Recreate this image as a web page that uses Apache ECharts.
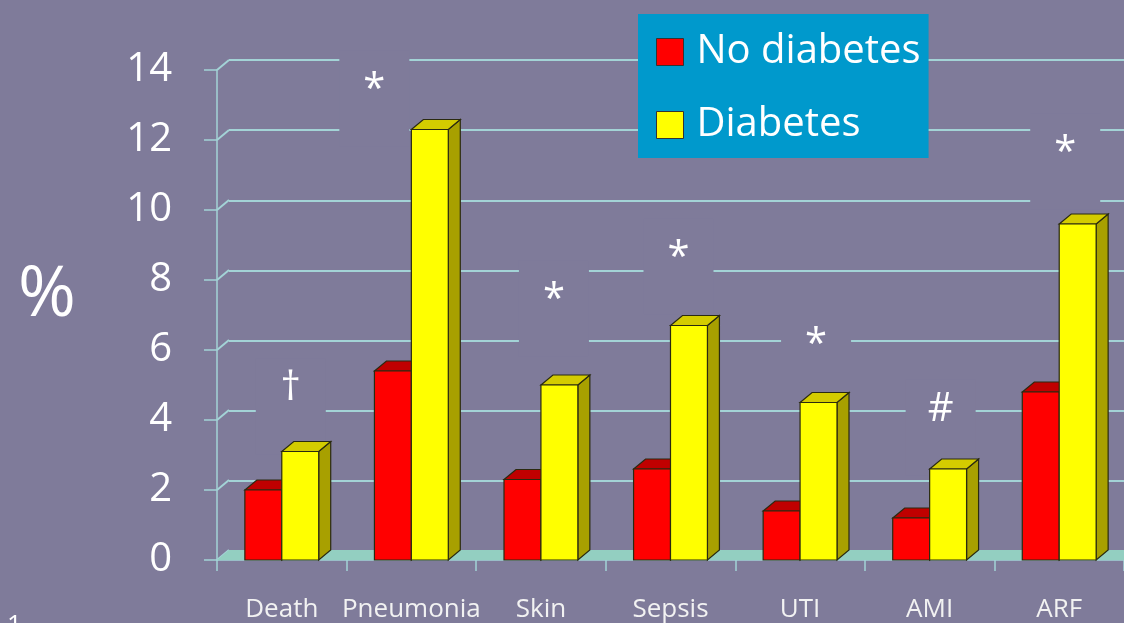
<!DOCTYPE html>
<html>
<head>
<meta charset="utf-8">
<script src="https://cdn.jsdelivr.net/npm/echarts@6/dist/echarts.min.js"></script>
<style>
html,body{margin:0;padding:0;background:#7f7b9a;}
#chart{width:1124px;height:623px;}
</style>
</head>
<body>
<div id="chart"></div>
<script>
// ---- data ----
const categories = ['Death', 'Pneumonia', 'Skin', 'Sepsis', 'UTI', 'AMI', 'ARF'];
const noDiabetes = [2.0, 5.4, 2.3, 2.6, 1.4, 1.2, 4.8];
const diabetes = [3.1, 12.3, 5.0, 6.7, 4.5, 2.6, 9.6];
const yTicks = [0, 2, 4, 6, 8, 10, 12, 14];
const annotSymbols = ['†', '*', '*', '*', '*', '#', '*'];
const annotLevels = [4.9, 13.7, 7.7, 8.9, 6.4, 4.3, 11.9];

// ---- layout / style ----
const BG = '#7f7b9a';
const GRID_COLOR = '#a3d3d6';
const DX = 12, DY = -10;          // 3D depth offset
const BAR_FRAC = 0.285;          // bar width as fraction of category band
const annotDx = [9, -37, 13, 8, 16, 11, 6];
const FONT = '"Open Sans", sans-serif';

const chart = echarts.init(document.getElementById('chart'));

function barRender(side, front, topC, sideC) {
  return function (params, api) {
    const c = api.coord([api.value(0), api.value(1)]);
    const b = api.coord([api.value(0), 0]);
    const band = api.size([1, 0])[0];
    const w = band * BAR_FRAC;
    const x0 = side < 0 ? c[0] - w : c[0];
    const top = c[1], base = b[1];
    const stroke = '#2a2a10';
    return {
      type: 'group',
      children: [
        { type: 'polygon', shape: { points: [[x0 + w, top], [x0 + w + DX, top + DY], [x0 + w + DX, base + DY], [x0 + w, base]] },
          style: { fill: sideC, stroke: stroke, lineWidth: 1.2 } },
        { type: 'polygon', shape: { points: [[x0, top], [x0 + DX, top + DY], [x0 + w + DX, top + DY], [x0 + w, top]] },
          style: { fill: topC, stroke: stroke, lineWidth: 1.2 } },
        { type: 'rect', shape: { x: x0, y: top, width: w, height: base - top },
          style: { fill: front, stroke: stroke, lineWidth: 1.2 } }
      ]
    };
  };
}

function floorRender(params, api) {
  const band = api.size([1, 0])[0];
  const left = api.coord([0, 0])[0] - band / 2;
  const right = api.coord([categories.length - 1, 0])[0] + band / 2;
  const y0 = api.coord([0, 0])[1];
  const children = [];
  yTicks.forEach(function (t) {
    const y = api.coord([0, t])[1];
    children.push({ type: 'line', shape: { x1: left, y1: y, x2: left + DX, y2: y + DY },
      style: { stroke: GRID_COLOR, lineWidth: 2 } });
  });
  children.push({ type: 'polygon', shape: { points: [[left, y0], [right, y0], [right + DX, y0 + DY], [left + DX, y0 + DY]] },
    style: { fill: '#93cfc1' } });
  return { type: 'group', children: children };
}

function annotRender(params, api) {
  const i = params.dataIndex;
  const p = api.coord([api.value(0), api.value(1)]);
  const x = p[0] + annotDx[i], y = p[1];
  return {
    type: 'group',
    children: [
      { type: 'rect', shape: { x: x - 35, y: y - 30, width: 70, height: 96 }, style: { fill: BG } },
      { type: 'text', x: x, y: y + (annotSymbols[i] === '*' ? 10 : 0),
        style: { text: annotSymbols[i], fill: '#ffffff', font: '40px ' + FONT, align: 'center', verticalAlign: 'middle' } }
    ]
  };
}

const option = {
  backgroundColor: BG,
  animation: false,
  title: [
    { text: '%', left: 13, top: 256, textStyle: { color: '#ffffff', fontSize: 70, fontWeight: 'normal', fontFamily: FONT } },
    { text: '1', left: 2, top: 608, textStyle: { color: '#ffffff', fontSize: 26, fontWeight: 'normal', fontFamily: FONT } }
  ],
  legend: {
    orient: 'vertical',
    left: 638, top: 14,
    backgroundColor: '#0099cc',
    padding: [18, 8, 13, 18],
    itemWidth: 27, itemHeight: 27,
    itemGap: 33,
    icon: 'rect',
    itemStyle: { borderColor: '#333333', borderWidth: 1 },
    textStyle: { color: '#ffffff', fontSize: 40, fontFamily: FONT, lineHeight: 40, padding: [0, 0, 0, 8] },
    data: ['No diabetes', 'Diabetes']
  },
  grid: [
    { left: 217, top: 70, width: 910, height: 491 },
    { left: 217 + DX, top: 70 + DY, width: 910, height: 491 }
  ],
  xAxis: [
    { type: 'category', gridIndex: 0, data: categories,
      axisLine: { show: true, lineStyle: { color: GRID_COLOR, width: 1.5 } },
      axisTick: { show: true, length: 11, lineStyle: { color: GRID_COLOR, width: 1.5 } },
      axisLabel: { color: '#f2f2f2', fontSize: 26, fontFamily: FONT, margin: 37, interval: 0 } },
    { type: 'category', gridIndex: 1, data: categories, show: false }
  ],
  yAxis: [
    { type: 'value', gridIndex: 0, min: 0, max: 14, interval: 2,
      axisLine: { show: true, lineStyle: { color: GRID_COLOR, width: 1.5 } },
      axisTick: { show: true, length: 13, lineStyle: { color: GRID_COLOR, width: 1.5 } },
      splitLine: { show: false },
      axisLabel: { color: '#ffffff', fontSize: 40, fontFamily: FONT, margin: 45 } },
    { type: 'value', gridIndex: 1, min: 0, max: 14, interval: 2,
      axisLine: { show: false }, axisTick: { show: false }, axisLabel: { show: false },
      splitLine: { show: true, lineStyle: { color: GRID_COLOR, width: 2 } } }
  ],
  series: [
    { type: 'custom', name: 'floor', xAxisIndex: 0, yAxisIndex: 0, renderItem: floorRender,
      data: [[0, 0]], silent: true },
    { type: 'custom', name: 'annotations', xAxisIndex: 0, yAxisIndex: 0, renderItem: annotRender,
      data: categories.map(function (c, i) { return [i, annotLevels[i]]; }), silent: true },
    { type: 'custom', name: 'No diabetes', xAxisIndex: 0, yAxisIndex: 0,
      itemStyle: { color: '#ff0000' },
      renderItem: barRender(-1, '#ff0000', '#c00000', '#a00000'),
      data: categories.map(function (c, i) { return [i, noDiabetes[i]]; }) },
    { type: 'custom', name: 'Diabetes', xAxisIndex: 0, yAxisIndex: 0,
      itemStyle: { color: '#ffff00' },
      renderItem: barRender(1, '#ffff00', '#d4cc00', '#a8a000'),
      data: categories.map(function (c, i) { return [i, diabetes[i]]; }) }
  ]
};
chart.setOption(option);
</script>
</body>
</html>
